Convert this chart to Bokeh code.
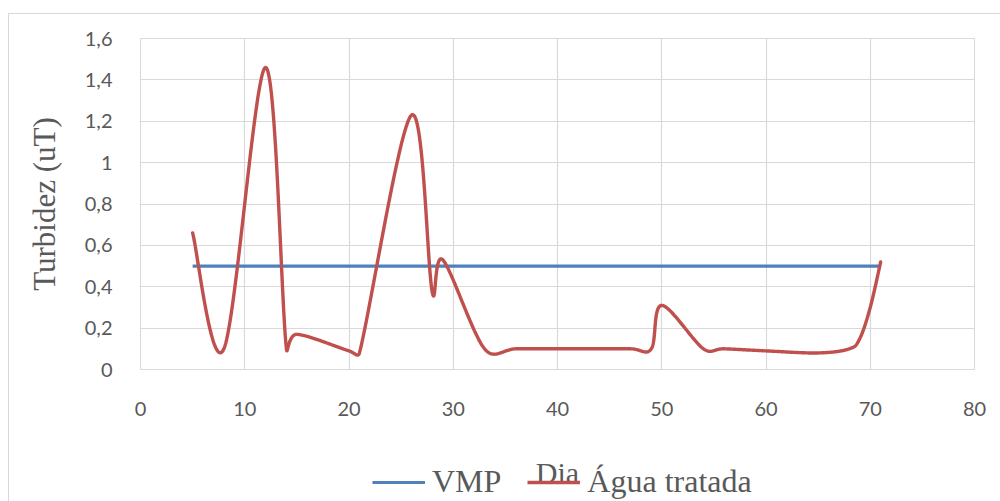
import numpy as np
from bokeh.plotting import figure
from bokeh.layouts import column
from bokeh.models import (Range1d, FixedTicker, CustomJSTickFormatter, Legend,
                          LegendItem, Label)
from bokeh.embed import file_html
from bokeh.resources import INLINE

# Turbidity of treated water per day, against the maximum allowed value (VMP)
dias = [5, 8, 12, 14, 15, 20, 21, 26, 28, 29, 33, 36, 40, 43, 47, 49, 50,
        54, 56, 60, 65, 68, 69, 70, 71]
agua_tratada = [0.66, 0.10, 1.46, 0.10, 0.17, 0.09, 0.08, 1.23, 0.37, 0.53,
                0.10, 0.10, 0.10, 0.10, 0.10, 0.10, 0.31, 0.10, 0.10, 0.09,
                0.08, 0.10, 0.15, 0.30, 0.52]
vmp_dias = [5, 71]
vmp = [0.5, 0.5]

x_ticks = [0, 10, 20, 30, 40, 50, 60, 70, 80]
y_ticks = [0, 0.2, 0.4, 0.6, 0.8, 1.0, 1.2, 1.4, 1.6]

BLUE = "#4f81bd"
RED = "#c0504d"
GRID = "#d9d9d9"
TEXT = "#595959"
SERIF = "Liberation Serif"

# canvas sizes: chart body on top, strip for the x title and legend below
W = 991
H_MAIN, H_FOOT = 431, 56
FRAME_L, FRAME_R, FRAME_T = 131, 26, 24
FRAME_W, FRAME_H = W - FRAME_L - FRAME_R, 331
X0, X1, Y0, Y1 = 0, 80, 0, 1.6


def smooth(xs, ys, n=40):
    """Spreadsheet-style smoothed line: cubic Bezier segments whose control
    arms follow the neighbouring points, capped at half the segment length."""
    kx = FRAME_W / (X1 - X0)
    ky = FRAME_H / (Y1 - Y0)
    pts = np.column_stack([np.asarray(xs, float) * kx,
                           np.asarray(ys, float) * ky])

    def arm(a, b, seg):
        v = (b - a) / 6.0
        L = np.hypot(*v)
        lim = np.hypot(*seg) / 2.0
        if L > lim and L > 0:
            v = v * lim / L
        return v

    out = [pts[0]]
    t = np.linspace(0, 1, n)[1:, None]
    for i in range(len(pts) - 1):
        p0 = pts[i - 1] if i > 0 else pts[i]
        p1, p2 = pts[i], pts[i + 1]
        p3 = pts[i + 2] if i + 2 < len(pts) else pts[i + 1]
        c1 = p1 + arm(p0, p2, p2 - p1)
        c2 = p2 - arm(p1, p3, p2 - p1)
        seg = ((1 - t) ** 3) * p1 + 3 * ((1 - t) ** 2) * t * c1 \
            + 3 * (1 - t) * (t ** 2) * c2 + (t ** 3) * p2
        out.extend(seg)
    arr = np.array(out)
    return arr[:, 0] / kx, arr[:, 1] / ky


# ---- chart body -----------------------------------------------------------
p = figure(width=W, height=H_MAIN, output_backend="svg", toolbar_location=None,
           x_range=Range1d(X0, X1), y_range=Range1d(Y0, Y1),
           min_border_left=FRAME_L, min_border_right=FRAME_R,
           min_border_top=FRAME_T,
           min_border_bottom=H_MAIN - FRAME_T - FRAME_H)
p.background_fill_color = "white"
p.border_fill_color = "white"
p.outline_line_color = GRID
p.outline_line_width = 1

sx, sy = smooth(dias, agua_tratada)
p.line(vmp_dias, vmp, line_color=BLUE, line_width=3.2)
p.line(sx, sy, line_color=RED, line_width=3.4, line_join="round",
       line_cap="round")

p.xaxis.ticker = FixedTicker(ticks=x_ticks)
p.yaxis.ticker = FixedTicker(ticks=y_ticks)
p.yaxis.formatter = CustomJSTickFormatter(
    code="return String(Math.round(tick * 10) / 10).replace('.', ',');")
for ax in (p.xaxis[0], p.yaxis[0]):
    ax.axis_line_color = None
    ax.major_tick_line_color = None
    ax.minor_tick_line_color = None
    ax.major_label_text_font = "Lato"
    ax.major_label_text_font_size = "20px"
    ax.major_label_text_color = TEXT
    ax.axis_label_text_font = SERIF
    ax.axis_label_text_font_style = "normal"
    ax.axis_label_text_color = TEXT

p.xaxis.major_label_standoff = 26
p.yaxis.major_label_standoff = 22
p.yaxis.axis_label = "Turbidez (uT)"
p.yaxis.axis_label_text_font_size = "31px"
p.yaxis.axis_label_standoff = 20

p.xgrid.grid_line_color = GRID
p.ygrid.grid_line_color = GRID
p.xgrid.grid_line_width = 1.2
p.ygrid.grid_line_width = 1.2

# ---- footer: x title and legend ------------------------------------------
# the column lines this strip's plot area up with the chart body above,
# so it shares the same horizontal data range
foot = figure(width=W, height=H_FOOT, output_backend="svg",
              toolbar_location=None, x_axis_location=None,
              y_axis_location=None, x_range=Range1d(X0, X1),
              y_range=Range1d(0, H_FOOT), min_border=0)
foot.grid.visible = False
foot.outline_line_color = None
foot.background_fill_color = "white"
foot.border_fill_color = "white"

# legend swatches: same series, kept out of this strip's visible range
foot.extra_y_ranges = {"hidden": Range1d(10, 11)}
k_vmp = foot.line(vmp_dias, vmp, line_color=BLUE, line_width=3.2,
                  y_range_name="hidden")
k_agua = foot.line(dias, agua_tratada, line_color=RED, line_width=3.4,
                   y_range_name="hidden")

foot.add_layout(Label(x=(X0 + X1) / 2, y=29, text="Dia",
                      text_align="center", text_baseline="alphabetic",
                      text_font=SERIF, text_font_size="30px",
                      text_color=TEXT))

legend = Legend(items=[LegendItem(label="VMP", renderers=[k_vmp]),
                       LegendItem(label="Água tratada", renderers=[k_agua])],
                orientation="horizontal", location=(232, 1),
                label_text_font=SERIF, label_text_font_size="32px",
                label_text_color=TEXT, glyph_width=53, glyph_height=20,
                spacing=26, label_standoff=7, padding=0, margin=0,
                border_line_color=None, background_fill_alpha=0)
foot.add_layout(legend, "center")

page = column(p, foot, spacing=0, margin=(13, 0, 0, 8),
              styles={"border-top": "1px solid #d9d9d9",
                      "border-left": "1px solid #d9d9d9"})

open("out.html", "w").write(file_html(page, INLINE))
